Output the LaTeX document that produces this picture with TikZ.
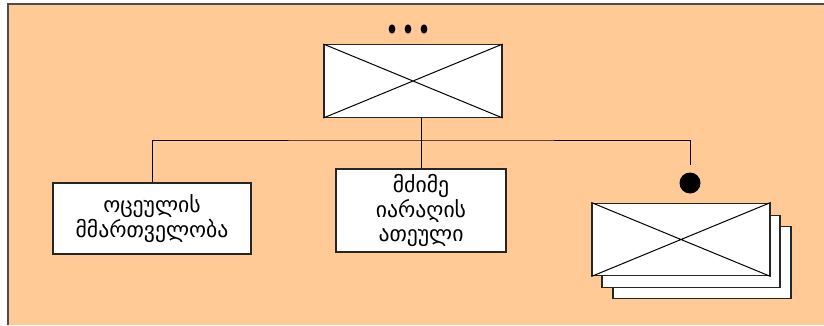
\documentclass[tikz,border=0pt]{standalone}
\usepackage{fontspec}
\newfontfamily\geofont{DejaVu Sans}
\usetikzlibrary{positioning, shapes.geometric, calc}
\definecolor{orgbg}{HTML}{FFCA96}

\begin{document}
\begin{tikzpicture}[
    x=0.03cm, y=0.03cm,
    box/.style={rectangle, draw=black!85, line width=1.1pt, fill=white, inner sep=0pt},
    crossbox/.style={box, minimum width=5.34cm, minimum height=2.18cm},
    textbox/.style={box, align=center, font=\geofont\fontsize{18.5}{21}\selectfont},
    dotmark/.style={ellipse, fill=black, inner sep=0pt, minimum width=0.2cm, minimum height=0.28cm},
    bigdot/.style={circle, fill=black, inner sep=0pt, minimum size=0.63cm},
    link/.style={draw=black, line width=0.85pt}
]
\useasboundingbox (0,0) rectangle (824,325);

% frame
\fill[orgbg] (8,0) rectangle (824,321);
\draw[black!70, line width=1.2pt] (8,0) -- (8,321) -- (824,321);

% top unit
\node[crossbox] (cmd) at (413,244) {};
\draw[link] (cmd.north west) -- (cmd.south east) (cmd.south west) -- (cmd.north east);
\node[dotmark] (dota) at (392,296) {};
\node[dotmark] (dotb) at (408,296) {};
\node[dotmark] (dotc) at (424,296) {};

% sub units
\node[textbox, minimum width=5.94cm, minimum height=2.13cm] (plt) at (152,106.5)
  {ოცეულის\\მმართველობა};
\node[textbox, minimum width=5.1cm, minimum height=2.49cm] (hw) at (421,114.5)
  {მძიმე\\იარაღის\\ათეული};
\node[bigdot] (mark) at (690,142) {};

% stacked units
\node[crossbox] (doc3) at (702,62.5) {};
\node[crossbox] (doc2) at (691,73.5) {};
\node[crossbox] (doc1) at (681,85.5) {};
\draw[link] (doc1.north west) -- (doc1.south east) (doc1.south west) -- (doc1.north east);

% tree lines
\coordinate (bus) at (421,185);
\draw[link] (cmd.south -| hw.north) -- (hw.north);
\draw[link] (plt.north) |- (bus) -| ([yshift=0.21cm]mark.north);

\end{tikzpicture}
\end{document}
